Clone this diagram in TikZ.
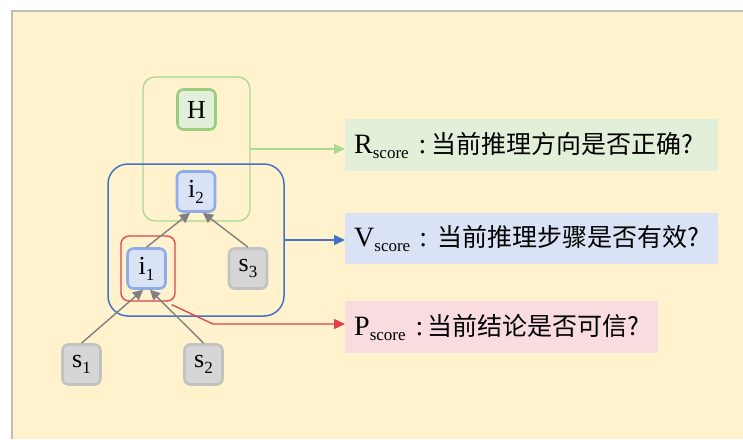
\documentclass[tikz,border=0pt]{standalone}
\usepackage{fontspec}
\setmainfont{Liberation Serif}
\newfontfamily\cjk{Noto Sans CJK SC}
\usetikzlibrary{arrows.meta}

\definecolor{paper}{HTML}{FFF2CD}
\definecolor{frame}{HTML}{BDBDBD}
\definecolor{grnline}{HTML}{A9D98E}
\definecolor{grnfill}{HTML}{E2F0D9}
\definecolor{grnnode}{HTML}{9ACD7E}
\definecolor{blueline}{HTML}{4472C4}
\definecolor{bluefill}{HTML}{DAE3F5}
\definecolor{bluenode}{HTML}{8EADE8}
\definecolor{redline}{HTML}{E0404F}
\definecolor{pinkfill}{HTML}{F9DCE0}
\definecolor{greyfill}{HTML}{D6D6D6}
\definecolor{greynode}{HTML}{C2C2C2}
\definecolor{arrowgrey}{HTML}{808080}

% subscript set in smaller upright type
\newcommand{\lowsub}[2]{\raisebox{-#1}{\fontsize{17}{17}\selectfont #2}}
\newcommand{\nodesub}[1]{\raisebox{-6pt}{\fontsize{17}{17}\selectfont #1}}

\tikzset{
  x=1pt, y=-1pt,
  vertex/.style={draw, line width=2.6pt, rounded corners=6pt,
    minimum width=38pt, minimum height=40pt, inner sep=0pt,
    font=\fontsize{26}{28}\selectfont},
  hnode/.style={vertex, draw=grnnode, fill=grnfill},
  inode/.style={vertex, draw=bluenode, fill=bluefill},
  snode/.style={vertex, draw=greynode, fill=greyfill},
  group/.style={draw, fill=none, inner sep=0pt},
  label box/.style={anchor=north west, inner xsep=9pt, inner ysep=0pt,
    align=left, font=\fontsize{28}{30}\selectfont},
  flow/.style={draw=arrowgrey, line width=1.4pt,
    -{Triangle[length=10pt,width=10pt]}},
  pointer/.style={line width=1.3pt, -{Triangle[length=11pt,width=10pt]}},
}

\begin{document}
\begin{tikzpicture}
  % page and frame
  \useasboundingbox (0,0) rectangle (743,439);
  \fill[white] (0,0) rectangle (743,439);
  \fill[paper] (12,11) rectangle (743,439);
  \draw[frame, line width=2.6pt] (12,439) -- (12,11) -- (743,11);

  % group outlines
  \node[group, draw=grnline, line width=1.3pt, rounded corners=12pt,
        minimum width=107pt, minimum height=144pt] (gH) at (196.5,149) {};
  \node[group, draw=blueline, line width=1.5pt, rounded corners=20pt,
        minimum width=176pt, minimum height=152pt] (gV) at (196,240) {};
  \node[group, draw=redline, line width=1.3pt, rounded corners=8pt,
        minimum width=54pt, minimum height=65pt] (gP) at (148,268.5) {};

  % reasoning graph
  \node[hnode] (H)  at (196.5,109.5) {H};
  \node[inode] (i2) at (196,191.5) {i\nodesub{2}};
  \node[inode] (i1) at (146.5,268.5) {i\nodesub{1}};
  \node[snode] (s3) at (248,268.5) {s\nodesub{3}};
  \node[snode] (s1) at (81.5,364.5) {s\nodesub{1}};
  \node[snode] (s2) at (203.5,364.5) {s\nodesub{2}};

  \draw[flow] (s1.north) -- ([xshift=-3.5pt]i1.south);
  \draw[flow] (s2.north) -- ([xshift=3.5pt]i1.south);
  \draw[flow] (i1.north) -- ([xshift=-6pt]i2.south);
  \draw[flow] (s3.north) -- ([xshift=7pt]i2.south);

  % score labels
  \node[label box, fill=grnfill, minimum width=373pt, minimum height=52pt,
        text width=355pt] (R) at (345,119)
    {R\lowsub{5pt}{score}\hspace{10pt}:\hspace{5pt}{\cjk\fontsize{25}{30}\selectfont 当前推理方向是否正确?}};
  \node[label box, fill=bluefill, minimum width=373pt, minimum height=51pt,
        text width=355pt] (V) at (345,213)
    {V\lowsub{5pt}{score}\hspace{9pt}:\hspace{10pt}{\cjk\fontsize{25}{30}\selectfont 当前推理步骤是否有效?}};
  \node[label box, fill=pinkfill, minimum width=313pt, minimum height=52pt,
        text width=295pt] (P) at (345,301)
    {P\lowsub{5pt}{score}\hspace{10pt}:\hspace{4pt}{\cjk\fontsize{25}{30}\selectfont 当前结论是否可信?}};

  % pointers from groups to labels
  \draw[pointer, grnline] (gH.east) -- (gH.east -| R.west);
  \draw[pointer, blueline] (gV.east) -- (gV.east -| V.west);
  \coordinate (bend) at (213,324);
  \draw[pointer, redline] ([xshift=-4pt,yshift=-3pt]gP.south east) -- (bend) -- (bend -| P.west);
\end{tikzpicture}
\end{document}
